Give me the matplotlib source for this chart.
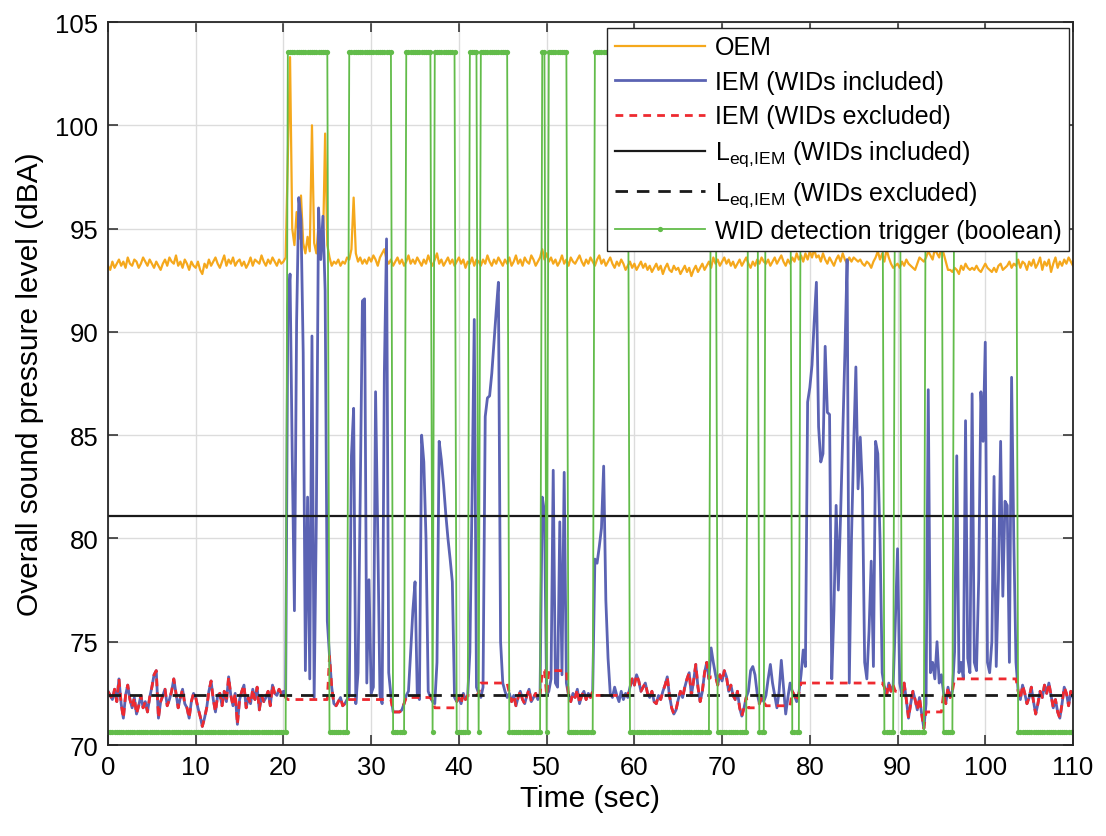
import numpy as np
import matplotlib
matplotlib.use("Agg")
import matplotlib.pyplot as plt

plt.rcParams['font.family'] = ['Liberation Sans', 'DejaVu Sans']
plt.rcParams['mathtext.fontset'] = 'custom'
plt.rcParams['mathtext.rm'] = 'Liberation Sans'
plt.rcParams['mathtext.it'] = 'Liberation Sans:italic'

# sampling step of the level traces (sec)
dt = 0.25

# OEM overall level, dBA (one row = 5 s)
oem = np.array([
    93.2, 93.0, 93.4, 93.1, 93.3, 93.5, 93.2, 93.4, 93.1, 93.6, 93.3, 93.2, 93.5, 93.4, 93.1, 93.3, 93.6, 93.4, 93.2, 93.5,
    93.3, 93.1, 93.4, 93.2, 93.0, 93.3, 93.5, 93.2, 93.6, 93.4, 93.3, 93.7, 93.2, 93.4, 93.1, 93.5, 93.3, 93.0, 93.4, 93.2,
    93.1, 93.4, 93.0, 92.8, 93.3, 93.1, 93.5, 93.2, 93.4, 93.6, 93.3, 93.1, 93.4, 93.7, 93.2, 93.5, 93.3, 93.6, 93.2, 93.4,
    93.5, 93.2, 93.4, 93.1, 93.3, 93.6, 93.2, 93.5, 93.4, 93.3, 93.7, 93.4, 93.2, 93.5, 93.3, 93.6, 93.4, 93.2, 93.5, 93.3,
    93.4, 93.6, 98.5, 103.3, 95.0, 94.2, 95.8, 94.5, 96.6, 94.3, 93.8, 94.6, 93.9, 100.0, 94.3, 93.8, 95.2, 94.1, 94.0, 99.6,
    94.2, 93.6, 93.2, 93.4, 93.3, 93.5, 93.2, 93.4, 93.3, 93.6, 93.5, 94.0, 96.5, 93.8, 93.4, 93.6, 93.3, 93.5, 93.3, 93.6,
    93.4, 93.7, 93.5, 93.2, 93.6, 93.8, 94.0, 93.5, 93.3, 93.5, 93.2, 93.4, 93.6, 93.3, 93.5, 93.2, 93.4, 93.7, 93.3, 93.5,
    93.3, 93.6, 93.4, 93.2, 93.5, 93.3, 93.7, 93.4, 93.2, 93.5, 93.8, 93.3, 93.5, 93.2, 93.4, 93.6, 93.3, 93.5, 93.2, 93.4,
    93.6, 93.3, 93.5, 93.1, 93.4, 93.3, 93.6, 93.2, 93.5, 93.4, 93.2, 93.5, 93.3, 93.7, 93.4, 93.2, 93.5, 93.3, 93.6, 93.4,
    93.2, 93.5, 93.3, 93.6, 93.2, 93.4, 93.7, 93.3, 93.5, 93.2, 93.6, 93.4, 93.3, 93.7, 93.5, 93.2, 93.4, 93.6, 94.0, 93.5,
    93.8, 93.4, 93.6, 93.3, 93.5, 93.2, 93.4, 93.7, 93.3, 93.5, 93.2, 93.6, 93.4, 93.3, 93.5, 93.7, 93.4, 93.2, 93.5, 93.3,
    93.6, 93.4, 93.2, 93.5, 93.7, 93.3, 93.5, 93.2, 93.4, 93.6, 93.3, 93.1, 93.4, 93.2, 93.5, 93.3, 93.0, 93.2, 93.4, 93.1,
    93.3, 93.0, 93.2, 93.4, 93.1, 93.3, 93.0, 93.2, 92.9, 93.1, 93.3, 93.0, 93.2, 92.8, 93.1, 93.3, 93.0, 92.9, 93.2, 93.0,
    93.1, 92.8, 93.0, 93.2, 92.9, 93.1, 92.7, 93.0, 93.2, 92.9, 93.1, 93.3, 93.0, 93.2, 93.4, 93.1, 93.6, 93.3, 93.5, 93.2,
    93.4, 93.6, 93.3, 93.5, 93.2, 93.4, 93.1, 93.3, 93.5, 93.2, 93.4, 93.6, 93.3, 93.1, 93.4, 93.2, 93.5, 93.3, 93.6, 93.4,
    93.3, 93.5, 93.2, 93.4, 93.6, 93.3, 93.5, 93.7, 93.4, 93.2, 93.5, 93.3, 93.6, 93.4, 93.8, 93.5, 93.7, 93.4, 93.8, 93.5,
    93.9, 93.6, 94.0, 93.6, 93.7, 93.4, 93.8, 93.5, 93.3, 93.6, 93.4, 93.2, 93.5, 93.7, 93.4, 93.8, 93.5, 93.3, 93.6, 93.4,
    93.6, 93.5, 93.4, 93.5, 93.3, 93.2, 93.4, 93.3, 93.1, 93.4, 93.6, 93.9, 93.5, 93.8, 93.4, 94.0, 93.6, 93.3, 93.1, 93.2,
    93.3, 93.1, 93.4, 93.2, 93.5, 93.3, 93.2, 93.1, 93.0, 93.3, 93.6, 93.5, 93.4, 93.6, 93.9, 93.7, 93.5, 94.0, 93.8, 93.6,
    94.1, 93.8, 93.4, 93.0, 93.0, 92.9, 93.1, 93.0, 92.8, 93.2, 93.0, 93.3, 93.1, 93.0, 93.1, 93.0, 93.2, 93.0, 92.9, 93.1,
    93.3, 93.1, 93.0, 92.9, 93.1, 92.9, 93.2, 93.3, 93.0, 93.1, 93.2, 93.4, 93.1, 93.3, 93.2, 93.5, 93.1, 93.4, 93.3, 93.0,
    93.4, 93.2, 93.5, 93.1, 93.3, 93.6, 93.0, 93.4, 93.2, 93.5, 92.9, 93.3, 93.6, 93.1, 93.4, 93.2, 93.5, 93.3, 93.6, 93.4,
    93.2,
])

# IEM overall level with WIDs, dBA (one row = 5 s)
iem_incl = np.array([
    72.6, 72.4, 72.2, 72.7, 72.1, 73.2, 72.0, 71.3, 72.4, 72.9, 72.2, 71.8, 72.3, 71.5, 71.9, 72.4, 71.8, 72.1, 71.6, 72.3,
    72.8, 73.4, 73.6, 71.3, 72.1, 72.4, 72.7, 71.9, 72.2, 72.6, 73.2, 72.5, 71.8, 72.3, 72.7, 72.0, 71.8, 71.3, 72.1, 72.5,
    72.3, 71.8, 71.4, 70.9, 71.3, 71.8, 72.6, 73.1, 72.2, 71.6, 72.4, 72.5, 71.9, 72.6, 72.1, 73.3, 72.4, 71.9, 72.5, 71.0,
    72.2, 72.6, 72.9, 71.8, 72.3, 72.0, 72.7, 72.2, 72.8, 71.7, 72.4, 72.1, 72.3, 72.6, 71.9, 72.9, 72.5, 72.4, 72.7, 72.5,
    72.6, 72.3, 91.2, 92.8, 84.0, 76.5, 90.5, 96.5, 95.4, 89.0, 73.6, 82.0, 73.2, 89.8, 72.3, 81.0, 96.0, 93.5, 95.6, 92.0,
    76.0, 74.3, 72.8, 72.0, 71.9, 72.1, 72.3, 71.9, 72.0, 72.2, 72.4, 84.0, 86.3, 72.0, 73.5, 82.0, 91.5, 91.6, 73.0, 78.0,
    72.5, 72.8, 87.1, 80.2, 72.4, 72.0, 88.0, 94.5, 73.5, 72.4, 71.6, 71.6, 71.6, 71.6, 71.7, 72.0, 72.4, 72.6, 74.5, 76.5,
    77.9, 72.5, 72.2, 85.0, 83.7, 80.0, 72.6, 72.3, 72.1, 72.0, 74.0, 84.7, 83.8, 82.6, 81.2, 80.0, 79.0, 77.9, 72.3, 72.1,
    72.3, 72.0, 72.5, 72.2, 72.4, 74.5, 82.0, 90.6, 72.8, 72.5, 72.3, 72.8, 85.9, 86.8, 86.9, 88.0, 89.5, 91.0, 92.4, 75.0,
    73.0, 72.6, 72.3, 72.5, 72.1, 72.4, 71.9, 72.3, 72.6, 72.2, 72.0, 72.4, 72.7, 72.1, 72.3, 72.5, 72.2, 72.4, 82.0, 81.3,
    72.4, 72.6, 73.2, 83.3, 73.0, 72.8, 80.8, 73.4, 83.2, 73.0, 72.4, 72.1, 72.5, 72.3, 72.7, 72.0, 72.4, 72.6, 72.2, 72.5,
    72.3, 72.6, 79.0, 78.8, 79.6, 80.5, 83.5, 77.0, 74.2, 72.5, 72.3, 72.8, 72.4, 72.1, 72.6, 72.2, 72.5, 72.3, 72.8, 73.2,
    72.9, 73.4, 73.1, 72.6, 72.8, 73.0, 72.5, 72.3, 72.6, 72.1, 72.0, 72.4, 72.2, 72.6, 72.9, 73.3, 72.4, 71.8, 71.5, 71.7,
    72.2, 72.6, 72.3, 72.8, 73.2, 73.5, 72.4, 73.1, 73.9, 72.8, 72.1, 72.6, 73.5, 74.0, 73.2, 74.7, 74.0, 73.4, 72.9, 73.4,
    73.1, 73.6, 73.3, 72.6, 72.9, 72.4, 72.2, 72.6, 71.8, 71.4, 71.8, 72.3, 72.6, 73.6, 73.8, 73.4, 72.5, 72.0, 72.3, 72.1,
    72.4, 73.2, 73.9, 73.0, 72.4, 71.8, 72.6, 74.1, 72.8, 71.5, 72.3, 73.0, 72.6, 72.4, 72.1, 72.5, 73.4, 74.6, 73.8, 86.6,
    87.3, 88.4, 90.5, 92.4, 85.4, 83.7, 84.1, 89.3, 86.1, 86.0, 73.2, 76.5, 81.6, 77.5, 81.0, 85.0, 89.0, 93.5, 73.0, 80.0,
    84.5, 88.3, 82.4, 84.9, 82.4, 74.0, 73.2, 75.5, 78.9, 73.8, 84.7, 84.1, 80.0, 73.5, 72.8, 72.4, 73.0, 72.6, 72.9, 76.0,
    79.5, 73.0, 72.4, 73.0, 72.2, 71.3, 72.0, 72.6, 72.2, 71.7, 72.3, 71.5, 70.8, 72.0, 87.2, 73.5, 74.0, 73.2, 75.0, 73.0,
    73.4, 72.5, 72.0, 72.8, 72.3, 72.6, 74.5, 84.0, 73.5, 74.0, 73.2, 85.7, 74.2, 73.5, 87.0, 74.0, 73.6, 78.0, 87.1, 84.7,
    89.5, 74.0, 73.5, 75.0, 83.0, 73.8, 78.0, 84.7, 77.2, 81.8, 81.6, 74.0, 87.8, 80.0, 74.0, 72.6, 72.2, 72.9, 72.5, 72.0,
    72.3, 72.8, 72.1, 71.5, 72.0, 72.6, 72.3, 72.9, 72.5, 73.0, 72.4, 71.8, 72.2, 71.6, 71.3, 72.0, 72.8, 72.5, 71.9, 72.6,
    72.3,
])

# WID detections: start / end of each detected segment (sec) and the level
# the IEM trace is replaced with while the WID is excluded
wid_start = [20.5, 27.5, 34.0, 37.25, 41.25, 42.5, 49.5, 50.25, 55.5, 68.75, 73.0, 75.0, 79.0, 89.75, 93.25, 96.5]
wid_end = [25.0, 32.25, 36.75, 39.5, 42.0, 45.5, 49.75, 52.25, 59.25, 69.25, 74.0, 77.75, 88.25, 90.25, 95.0, 103.5]
wid_fill = [72.2, 72.2, 72.3, 71.8, 72.4, 73.0, 73.6, 73.6, 72.4, 73.3, 71.8, 71.9, 73.0, 72.6, 71.6, 73.2]

# equivalent continuous levels (dBA)
leq_incl = 81.1
leq_excl = 72.4

# levels used to draw the boolean trigger
trig_low = 70.63
trig_high = 103.55

t = np.arange(len(iem_incl)) * dt

trigger = np.zeros(len(t), dtype=bool)
iem_excl = iem_incl.copy()
for s, e, f in zip(wid_start, wid_end, wid_fill):
    on = (t >= s - 1e-9) & (t <= e + 1e-9)
    trigger |= on
    iem_excl[on] = f
trig_line = np.where(trigger, trig_high, trig_low)

fig = plt.figure(figsize=(11.06, 8.37), dpi=100)
ax = fig.add_axes([108 / 1106, 1 - 746 / 837, (1073 - 108) / 1106, (746 - 23) / 837])

ax.plot(t, oem, color='#F5A81C', lw=1.6, label='OEM')
ax.plot(t, iem_incl, color='#5b63b3', lw=2.0, label='IEM (WIDs included)')
ax.plot(t, iem_excl, color='#ee2a30', lw=2.0, ls=(0, (2.8, 2.2)), label='IEM (WIDs excluded)')
ax.axhline(leq_incl, color='#1a1a1a', lw=1.6, label=r'L$_{\mathregular{eq{,}IEM}}$ (WIDs included)')
ax.axhline(leq_excl, color='#1a1a1a', lw=2.0, ls=(0, (4.5, 3.2)), label=r'L$_{\mathregular{eq{,}IEM}}$ (WIDs excluded)')
ax.plot(t, trig_line, color='#62bc4a', lw=1.3, marker='o', ms=3.8, mec='none',
        label='WID detection trigger (boolean)')

ax.set_xlim(0, 110)
ax.set_ylim(70, 105)
ax.set_xticks(np.arange(0, 111, 10))
ax.set_yticks(np.arange(70, 106, 5))
ax.grid(True, color='#dcdcdc', lw=1.0)
ax.set_axisbelow(True)
ax.tick_params(direction='in', top=True, right=True, length=7, width=1.1,
               labelsize=18.5, color='#262626', pad=7)
for sp in ax.spines.values():
    sp.set_linewidth(1.3)
    sp.set_color('#262626')

ax.set_xlabel('Time (sec)', fontsize=21.5, labelpad=4)
ax.set_ylabel('Overall sound pressure level (dBA)', fontsize=21.5, labelpad=8)

leg = ax.legend(loc='upper right', bbox_to_anchor=(0.996, 0.992), fontsize=18,
                fancybox=False, framealpha=1, edgecolor='#262626', handlelength=3.6,
                handletextpad=0.4, labelspacing=0.42, borderpad=0.3, borderaxespad=0)
leg.get_frame().set_linewidth(1.0)

fig.savefig('out.png', dpi=100)
